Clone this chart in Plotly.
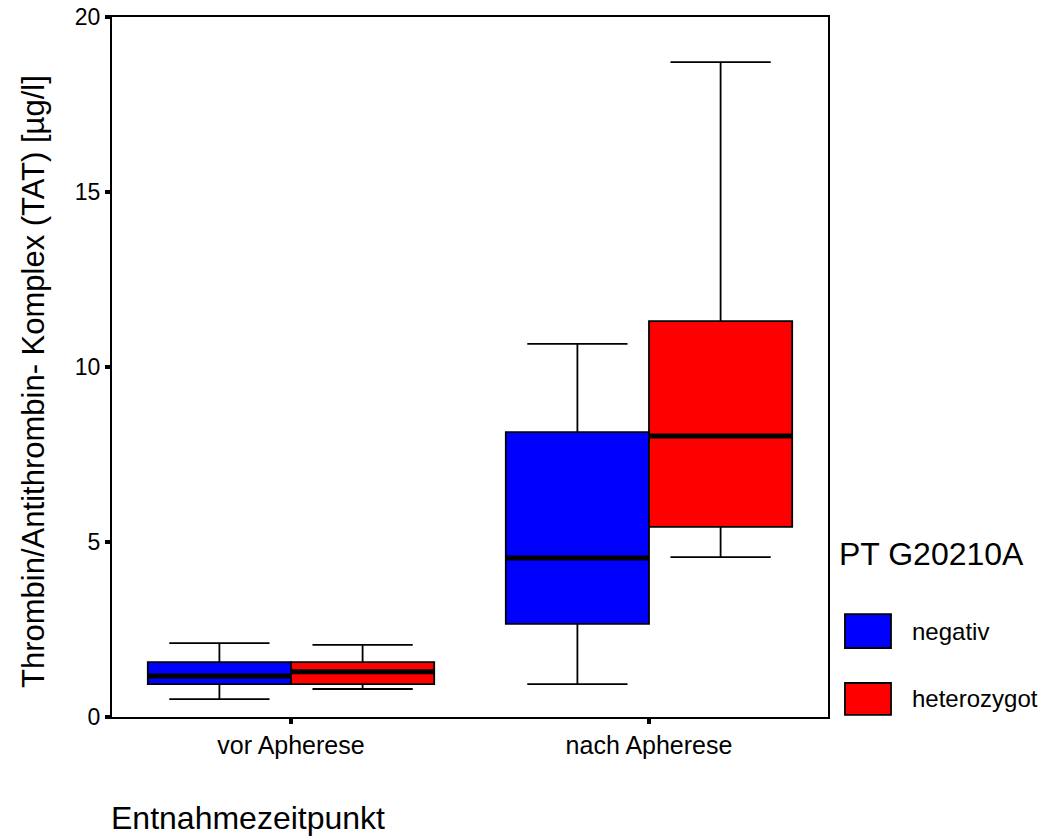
import plotly.graph_objects as go

categories = ["vor Apherese", "nach Apherese"]
groups = ["negativ", "heterozygot"]
colors = ["#0000FF", "#FF0000"]

# quartile statistics per group (index matches categories)
neg_lower = [0.51, 0.94]
neg_q1 = [0.94, 2.66]
neg_median = [1.17, 4.54]
neg_q3 = [1.57, 8.14]
neg_upper = [2.11, 10.66]

het_lower = [0.80, 4.57]
het_q1 = [0.94, 5.43]
het_median = [1.29, 8.03]
het_q3 = [1.57, 11.31]
het_upper = [2.06, 18.71]

yticks = [0, 5, 10, 15, 20]

stats = [
    (neg_lower, neg_q1, neg_median, neg_q3, neg_upper),
    (het_lower, het_q1, het_median, het_q3, het_upper),
]

box_w = 0.4
offsets = [-box_w / 2, box_w / 2]

fig = go.Figure()
for name, col, st, off in zip(groups, colors, stats, offsets):
    lo, q1, med, q3, up = st
    xs = [i + off for i in range(len(categories))]
    fig.add_trace(go.Box(
        name=name, x=xs, q1=q1, median=med, q3=q3,
        lowerfence=lo, upperfence=up,
        width=box_w, whiskerwidth=0.7,
        fillcolor=col, line=dict(color="black", width=1.8),
        showlegend=False, boxpoints=False,
    ))
    mx, my = [], []
    for x, m in zip(xs, med):
        mx += [x - box_w / 2, x + box_w / 2, None]
        my += [m, m, None]
    fig.add_trace(go.Scatter(x=mx, y=my, mode="lines",
                             line=dict(color="black", width=5),
                             showlegend=False, hoverinfo="skip"))

# custom legend
fig.add_annotation(xref="paper", yref="paper", x=1.012, y=0.233,
                   xanchor="left", yanchor="middle", text="PT G20210A",
                   showarrow=False, font=dict(size=32, color="black"))
legend_y = [(0.0986, 0.147), (0.003, 0.0486)]
for (y0, y1), name, col in zip(legend_y, groups, colors):
    fig.add_shape(type="rect", xref="paper", yref="paper",
                  x0=1.0237, x1=1.088, y0=y0, y1=y1,
                  fillcolor=col, line=dict(color="black", width=1.8))
    fig.add_annotation(xref="paper", yref="paper", x=1.115, y=(y0 + y1) / 2,
                       xanchor="left", yanchor="middle", text=name,
                       showarrow=False, font=dict(size=24, color="black"))

fig.add_annotation(xref="paper", yref="paper", x=-0.004, y=-0.144,
                   xanchor="left", yanchor="middle",
                   text="Entnahmezeitpunkt", showarrow=False,
                   font=dict(size=32, color="black"))

fig.add_annotation(xref="paper", yref="paper", x=-0.110, y=0.479,
                   xanchor="center", yanchor="middle", textangle=-90,
                   text="Thrombin/Antithrombin- Komplex (TAT) [µg/l]",
                   showarrow=False, font=dict(size=31, color="black"))

fig.update_layout(
    width=1050, height=839,
    margin=dict(l=112, r=222, t=17, b=122, autoexpand=False),
    paper_bgcolor="white", plot_bgcolor="white",
    font=dict(family="Liberation Sans, Arial, sans-serif", color="black"),
    boxmode="overlay",
    showlegend=False,
    xaxis=dict(
        range=[-0.5, 1.5], tickvals=list(range(len(categories))),
        ticktext=categories, showgrid=False, zeroline=False,
        showline=True, linecolor="black", linewidth=2, mirror=True,
        ticks="outside", ticklen=5, tickwidth=4, tickcolor="black",
        tickfont=dict(size=25), automargin=False,
    ),
    yaxis=dict(
        range=[0, 20], tickvals=yticks, showgrid=False, zeroline=False,
        showline=True, linecolor="black", linewidth=2, mirror=True,
        ticks="outside", ticklen=5, tickwidth=4, tickcolor="black",
        tickfont=dict(size=23), automargin=False,
        ticklabeloverflow="allow",
    ),
)

fig.write_html(
    "out.html",
    config={"displayModeBar": False},
    post_script="document.body.style.margin='0';document.body.style.overflow='hidden';",
)
